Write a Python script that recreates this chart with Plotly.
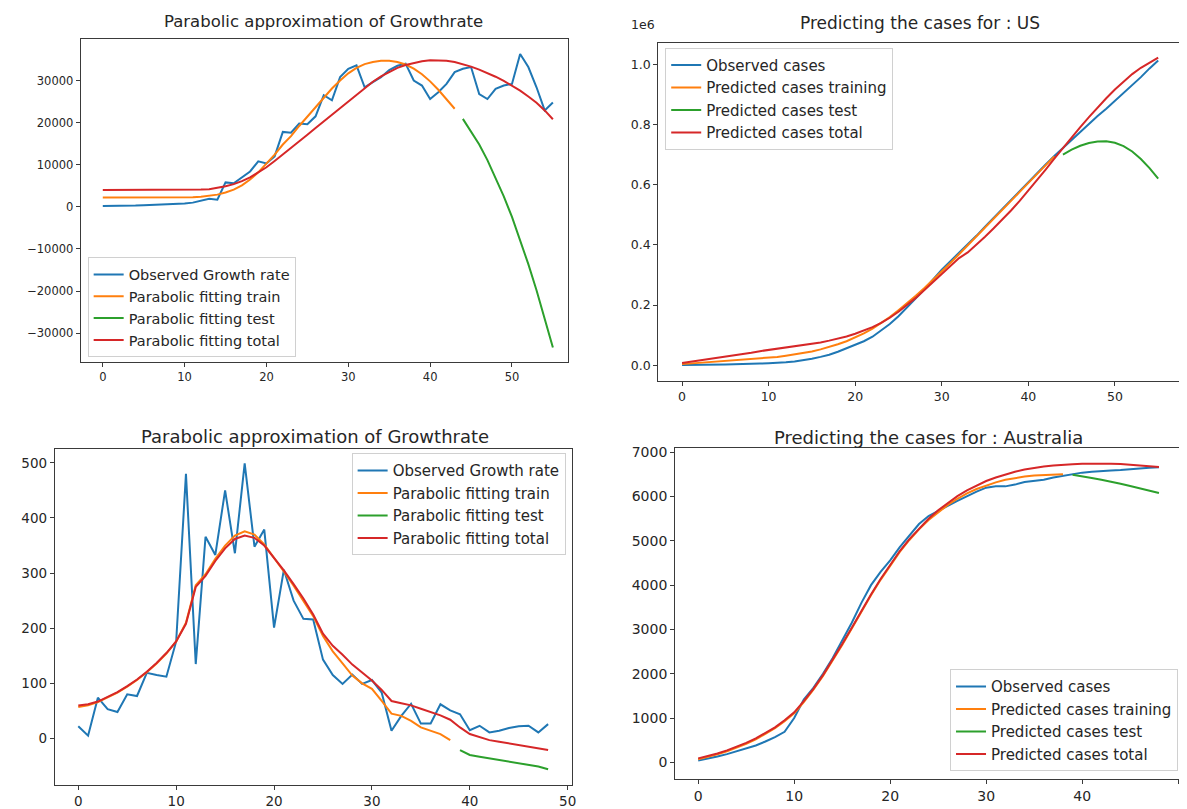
import plotly.graph_objects as go

W, H = 1187, 809
OFF = 8  # the page body has an 8px margin; the figure is shifted by this much
FW, FH = W - OFF, H - OFF

# ---------------- Data ----------------
# US growth rate (top-left)
us_growth_observed = [200, 200, 250, 300, 300, 400, 450, 500, 600, 700, 800, 1000, 1500, 1900, 1700,
                      5800, 5600, 7000, 8400, 10800, 10300, 12000, 17800, 17600, 19800, 19600, 21500,
                      26500, 25300, 30800, 32800, 33600, 28400, 29600, 30800, 32500, 33500, 34000,
                      30000, 28800, 25600, 27200, 29200, 32000, 32800, 33200, 26800, 25600, 28000,
                      28800, 29200, 36300, 33200, 28400, 22900, 24800]
us_growth_train = [2200, 2200, 2200, 2200, 2200, 2200, 2200, 2200, 2200, 2200, 2200, 2300, 2400, 2600,
                   2900, 3400, 4100, 5100, 6500, 8200, 10200, 12400, 14800, 16800, 19200, 21400, 23600,
                   26000, 28100, 30000, 31700, 33000, 33900, 34400, 34700, 34700, 34400, 33800, 32800,
                   31500, 29800, 27800, 25600, 23300]
us_growth_test = [20900, 18000, 14800, 11100, 7000, 2500, -2400, -7800, -13600, -19800, -26400, -33400]
us_growth_total = [4000, 4000, 4000, 4000, 4000, 4000, 4000, 4000, 4000, 4000, 4000, 4050, 4100, 4200,
                   4500, 4900, 5400, 6100, 7000, 8100, 9400, 10900, 12400, 13900, 15500, 17100, 18700,
                   20300, 21900, 23500, 25000, 26600, 28200, 29700, 31000, 32100, 33000, 33700, 34200,
                   34600, 34800, 34800, 34700, 34400, 33900, 33300, 32600, 31800, 30900, 29900, 28800,
                   27600, 26200, 24700, 22900, 20800]
us_growth_test_start = 44

# US cumulative cases (top-right)
us_cases_observed = [1000, 1000, 2000, 2000, 3000, 3000, 4000, 4000, 5000, 6000, 7000, 8000, 10000,
                     13000, 17000, 22000, 28000, 35000, 45000, 56000, 68000, 80000, 95000, 115000,
                     137000, 163000, 192000, 222000, 252000, 285000, 318000, 346000, 373000, 402000,
                     430000, 460000, 490000, 520000, 550000, 580000, 610000, 640000, 667000, 695000,
                     722000, 750000, 777000, 802000, 828000, 852000, 878000, 905000, 930000, 957000,
                     986000, 1012000]
us_cases_train = [4000, 6000, 8000, 10000, 12000, 14000, 16000, 18000, 20000, 22000, 25000, 28000,
                  32000, 36000, 41000, 46000, 53000, 61000, 70000, 80000, 92000, 106000, 122000,
                  140000, 160000, 183000, 206000, 231000, 257000, 284000, 312000, 340000, 369000,
                  398000, 427000, 456000, 486000, 516000, 546000, 576000, 606000, 636000, 665000,
                  694000]
us_cases_test = [700000, 716000, 729000, 738000, 743000, 744000, 739000, 728000, 710000, 685000,
                 655000, 620000]
us_cases_total = [8000, 12000, 16000, 20000, 24000, 28000, 32000, 37000, 42000, 47000, 51000, 55000,
                  59000, 63000, 67000, 71000, 76000, 82000, 88000, 96000, 105000, 115000, 127000,
                  141000, 158000, 178000, 200000, 224000, 250000, 277000, 304000, 331000, 356000,
                  375000, 400000, 427000, 455000, 484000, 514000, 546000, 580000, 615000, 650000,
                  686000, 722000, 757000, 791000, 824000, 856000, 887000, 916000, 943000, 967000,
                  988000, 1006000, 1022000]
us_cases_test_start = 44

# Australia growth rate (bottom-left)
au_growth_observed = [22, 5, 74, 53, 48, 80, 77, 119, 115, 112, 176, 480, 135, 366, 333, 450, 336, 499,
                      348, 379, 201, 306, 250, 217, 216, 143, 115, 99, 116, 99, 106, 83, 14, 41, 63,
                      27, 27, 62, 51, 44, 15, 23, 11, 14, 19, 22, 23, 11, 26]
au_growth_train = [57, 60, 66, 74, 83, 94, 106, 120, 136, 154, 176, 210, 278, 298, 326, 350, 368, 376,
                   370, 352, 328, 303, 277, 250, 222, 186, 158, 136, 114, 100, 90, 68, 45, 41, 32,
                   20, 14, 8, -3]
au_growth_test = [-21, -30, -33, -36, -39, -42, -45, -48, -51, -56]
au_growth_total = [60, 62, 67, 75, 84, 95, 107, 121, 137, 155, 176, 208, 275, 295, 322, 345, 362, 368,
                   364, 350, 328, 305, 280, 254, 225, 190, 168, 152, 134, 120, 105, 88, 68, 64, 60,
                   54, 48, 42, 34, 20, 8, 2, -3, -6, -9, -12, -15, -18, -21]
au_growth_test_start = 39

# Australia cumulative cases (bottom-right)
au_cases_observed = [40, 80, 130, 185, 245, 305, 380, 470, 570, 690, 1000, 1420, 1680, 2000, 2350,
                     2750, 3150, 3600, 4000, 4300, 4560, 4860, 5130, 5380, 5560, 5680, 5790, 5900,
                     6010, 6110, 6200, 6230, 6230, 6270, 6330, 6350, 6380, 6430, 6470, 6510, 6540,
                     6560, 6580, 6590, 6600, 6620, 6630, 6650, 6660]
au_cases_train = [70, 120, 180, 250, 330, 420, 520, 640, 770, 930, 1110, 1360, 1640, 1950, 2290, 2650,
                  3020, 3400, 3770, 4120, 4450, 4750, 5020, 5260, 5470, 5650, 5810, 5950, 6070, 6170,
                  6250, 6320, 6380, 6420, 6450, 6475, 6490, 6500, 6505]
au_cases_test = [6490, 6460, 6420, 6380, 6340, 6290, 6240, 6190, 6140, 6080]
au_cases_total = [90, 140, 200, 270, 350, 440, 540, 660, 790, 950, 1130, 1380, 1660, 1970, 2310, 2670,
                  3040, 3420, 3790, 4140, 4470, 4770, 5040, 5280, 5500, 5690, 5860, 6010, 6140, 6250,
                  6350, 6430, 6500, 6560, 6610, 6650, 6680, 6700, 6720, 6730, 6740, 6745, 6745, 6740,
                  6735, 6720, 6705, 6685, 6665]
au_cases_test_start = 39

growth_names = ["Observed Growth rate", "Parabolic fitting train", "Parabolic fitting test",
                "Parabolic fitting total"]
cases_names = ["Observed cases", "Predicted cases training", "Predicted cases test",
               "Predicted cases total"]
titles = ["Parabolic approximation of Growthrate", "Predicting the cases for : US",
          "Parabolic approximation of Growthrate", "Predicting the cases for : Australia"]

COLORS = ["#1f77b4", "#ff7f0e", "#2ca02c", "#d62728"]
FONT = "DejaVu Sans"
TXT = "#262626"

fig = go.Figure()

panels = [
    (us_growth_observed, us_growth_train, us_growth_test, us_growth_total, us_growth_test_start, growth_names),
    (us_cases_observed, us_cases_train, us_cases_test, us_cases_total, us_cases_test_start, cases_names),
    (au_growth_observed, au_growth_train, au_growth_test, au_growth_total, au_growth_test_start, growth_names),
    (au_cases_observed, au_cases_train, au_cases_test, au_cases_total, au_cases_test_start, cases_names),
]

legend_ids = ["legend", "legend2", "legend3", "legend4"]
for i, (obs, tr, te, tot, ts, names) in enumerate(panels):
    ax = "" if i == 0 else str(i + 1)
    series = [
        (list(range(len(obs))), obs),
        (list(range(len(tr))), tr),
        (list(range(ts, ts + len(te))), te),
        (list(range(len(tot))), tot),
    ]
    for k, (xs, ys) in enumerate(series):
        fig.add_trace(go.Scatter(
            x=xs, y=ys, mode="lines", name=names[k],
            line=dict(color=COLORS[k], width=2),
            xaxis="x" + ax, yaxis="y" + ax, legend=legend_ids[i],
        ))


def px_x(x):
    return (x - OFF) / FW


def px_y(y):
    return 1 - (y - OFF) / FH


def axis_style(size):
    return dict(showline=True, linecolor="#3a3a3a", linewidth=1, mirror=True,
                ticks="outside", ticklen=4, tickwidth=1, tickcolor="#3a3a3a",
                showgrid=False, zeroline=False, tickformat="d",
                tickfont=dict(family=FONT, size=size, color=TXT))


# panel geometry in reference pixels: (x_left, x_right, y_top, y_bottom), x range, y range, tick font
geo = [
    ((81, 570, 35, 360), [-2.7, 56.8], [-36800, 39900], 11.5),
    ((661, 1190, 39, 379), [-2.75, 57.75], [-51000, 1071000], 12.5),
    ((55, 574, 448, 786), [-2.4, 50.4], [-84.7, 524.7], 13.5),
    ((678, 1188, 447, 780), [-2.4, 50.4], [-380, 7090], 14),
]

layout = {}
for i, ((xl, xr, yt, yb), xr_, yr_, fs) in enumerate(geo):
    ax = "" if i == 0 else str(i + 1)
    layout["xaxis" + ax] = dict(domain=[px_x(xl), min(px_x(xr), 1.0)], range=xr_, anchor="y" + ax,
                                tickvals=[0, 10, 20, 30, 40, 50], **axis_style(fs))
    layout["yaxis" + ax] = dict(domain=[px_y(yb), px_y(yt)], range=yr_, anchor="x" + ax,
                                **axis_style(fs))

layout["yaxis"]["tickvals"] = [-30000, -20000, -10000, 0, 10000, 20000, 30000]
layout["yaxis2"]["tickvals"] = [0, 200000, 400000, 600000, 800000, 1000000]
layout["yaxis2"]["ticktext"] = ["0.0", "0.2", "0.4", "0.6", "0.8", "1.0"]
layout["yaxis3"]["tickvals"] = [0, 100, 200, 300, 400, 500]
layout["yaxis4"]["tickvals"] = [0, 1000, 2000, 3000, 4000, 5000, 6000, 7000]


def leg(x, y, xa, ya, size):
    return dict(x=px_x(x), y=px_y(y), xanchor=xa, yanchor=ya,
                bgcolor="rgba(255,255,255,0.85)", bordercolor="#d0d0d0", borderwidth=1,
                font=dict(family=FONT, size=size, color=TXT), itemwidth=30, tracegroupgap=0)


layout["legend"] = leg(88, 255, "left", "top", 14.5)
layout["legend2"] = leg(668, 44, "left", "top", 15)
layout["legend3"] = leg(568, 452, "right", "top", 15)
layout["legend4"] = leg(1183, 772, "right", "bottom", 15)

title_specs = [(325, 18, 16.5), (924, 19, 17), (316, 435, 18), (932, 436, 18)]
annotations = []
for t, (cx, cy, fs) in zip(titles, title_specs):
    annotations.append(dict(text=t, x=px_x(cx), y=px_y(cy), xref="paper", yref="paper",
                            xanchor="center", yanchor="middle", showarrow=False,
                            font=dict(family=FONT, size=fs, color=TXT)))
annotations.append(dict(text="1e6", x=px_x(646), y=px_y(21), xref="paper", yref="paper",
                        xanchor="center", yanchor="middle", showarrow=False,
                        font=dict(family=FONT, size=12.5, color=TXT)))

fig.update_layout(
    width=FW, height=FH,
    margin=dict(l=0, r=0, t=0, b=0),
    paper_bgcolor="white", plot_bgcolor="white",
    showlegend=True,
    annotations=annotations,
    **layout,
)

fig.write_html("out.html")
